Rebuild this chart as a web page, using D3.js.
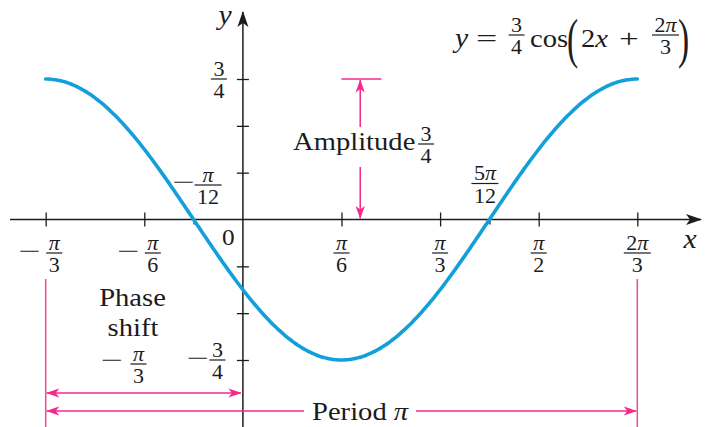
<!DOCTYPE html>
<html><head><meta charset="utf-8">
<script src="https://cdn.jsdelivr.net/npm/d3@7"></script>
<style>
html,body{margin:0;padding:0;background:#fff;}
svg{display:block;}
text{font-family:"Liberation Serif","Times New Roman",serif;fill:#1c1c1c;}
</style></head><body>
<svg id="chart" width="709" height="427"></svg>
<script>
const PI = Math.PI;

// y = A cos(B x + C)
const amplitude = 0.75;
const frequency = 2;
const phaseConst = 2 * PI / 3;

const xDomain = [-PI / 3, 2 * PI / 3];
const yDomain = [-0.75, 0.75];

// tick positions and their fraction labels
const xTickValues = [-PI / 3, -PI / 6, PI / 6, PI / 3, PI / 2, 2 * PI / 3];
const xTickNums = ["π", "π", "π", "π", "π", "2π"];
const xTickDens = ["3", "6", "6", "3", "2", "3"];
const xTickNeg = [true, true, false, false, false, false];
const xZeroTicks = [-PI / 12, 5 * PI / 12];
const yTickValues = [-0.75, -0.5, -0.25, 0.25, 0.5, 0.75];

const periodValue = PI;
const phaseShift = -PI / 3;

const svg = d3.select("#chart");
const x = d3.scaleLinear().domain(xDomain).range([45.7, 637.3]);
const y = d3.scaleLinear().domain(yDomain).range([360, 79]);

const ink = "#1c1c1c";
const pink = "#f5288c";
const blue = "#139fd9";
const WIDE = 1.1;      // horizontal stretch for the text face
const FRAC = 20;       // fraction numeral size

// arrowheads
const defs = svg.append("defs");
defs.append("marker").attr("id", "pinkHead")
  .attr("viewBox", "0 -5 13 10").attr("refX", 12.5).attr("refY", 0)
  .attr("markerWidth", 13).attr("markerHeight", 10)
  .attr("markerUnits", "userSpaceOnUse").attr("orient", "auto-start-reverse")
  .append("path").attr("d", "M0,-4.6 L13,0 L0,4.6 L3.5,0 Z").attr("fill", pink);
defs.append("marker").attr("id", "axisHead")
  .attr("viewBox", "0 -6 16 12").attr("refX", 15).attr("refY", 0)
  .attr("markerWidth", 16).attr("markerHeight", 12)
  .attr("markerUnits", "userSpaceOnUse").attr("orient", "auto")
  .append("path").attr("d", "M0,-5.5 L16,0 L0,5.5 L4,0 Z").attr("fill", ink);

// helper: write a math string, italicising π and variables
function mathText(sel, str) {
  for (const ch of str) {
    const t = sel.append("tspan").text(ch);
    if (ch === "π" || ch === "x" || ch === "y") t.style("font-style", "italic");
  }
  return sel;
}

// stretched text placed at (px, py)
function label(px, py, str, size, anchor = "start", sx = WIDE) {
  const t = svg.append("text").attr("transform", `translate(${px},${py}) scale(${sx},1)`)
    .attr("text-anchor", anchor).style("font-size", size + "px");
  return mathText(t, str);
}

function frac(cx, barY, num, den, size = FRAC) {
  const g = svg.append("g");
  const n = mathText(g.append("text").attr("transform", `translate(${cx},${barY - 3.5}) scale(${WIDE},1)`)
    .attr("text-anchor", "middle").style("font-size", size + "px"), num);
  const d = mathText(g.append("text").attr("transform", `translate(${cx},${barY + size * 0.68 + 5.5}) scale(${WIDE},1)`)
    .attr("text-anchor", "middle").style("font-size", size + "px"), den);
  const w = WIDE * Math.max(n.node().getComputedTextLength(), d.node().getComputedTextLength()) + 5;
  g.append("line").attr("x1", cx - w / 2).attr("x2", cx + w / 2)
    .attr("y1", barY).attr("y2", barY).attr("stroke", ink).attr("stroke-width", 1.2);
  return g;
}

function minus(cx, cy, size = 24) {
  label(cx, cy + size * 0.27, "−", size, "middle", 1.65);
}

// x axis
svg.append("line").attr("x1", 10).attr("x2", 701).attr("y1", y(0)).attr("y2", y(0))
  .attr("stroke", ink).attr("stroke-width", 1.5).attr("marker-end", "url(#axisHead)");
const xAxis = svg.append("g").attr("transform", `translate(0,${y(0)})`)
  .call(d3.axisBottom(x).tickValues(xTickValues).tickSize(7).tickFormat(""));
xAxis.select(".domain").remove();
xAxis.selectAll(".tick line").attr("y1", -7).attr("y2", 7).attr("stroke", ink).attr("stroke-width", 1.3);
const xAxisZ = svg.append("g").attr("transform", `translate(0,${y(0)})`)
  .call(d3.axisBottom(x).tickValues(xZeroTicks).tickSize(5).tickFormat(""));
xAxisZ.select(".domain").remove();
xAxisZ.selectAll(".tick line").attr("y1", -1).attr("y2", 5).attr("stroke", ink).attr("stroke-width", 1.3);

// y axis
svg.append("line").attr("x1", x(0)).attr("x2", x(0)).attr("y1", 427).attr("y2", 12)
  .attr("stroke", ink).attr("stroke-width", 1.5).attr("marker-end", "url(#axisHead)");
const yAxis = svg.append("g").attr("transform", `translate(${x(0)},0)`)
  .call(d3.axisLeft(y).tickValues(yTickValues).tickSize(6).tickFormat(""));
yAxis.select(".domain").remove();
yAxis.selectAll(".tick line").attr("x1", -6).attr("x2", 6).attr("stroke", ink).attr("stroke-width", 1.3);

// x tick labels
xTickValues.forEach((v, i) => {
  const off = xTickNeg[i] ? 8.5 : 0;
  frac(x(v) + off, 253, xTickNums[i], xTickDens[i]);
  if (xTickNeg[i]) minus(x(v) - 16, 253);
});
frac(x(-PI / 12) + 14.5, 185, "π", "12");
minus(x(-PI / 12) - 10, 183.5);
frac(x(5 * PI / 12) - 4.5, 183.5, "5π", "12");

// origin and axis names
label(x(0) - 14.5, 245, "0", 23, "middle");
label(690, 248, "x", 27, "middle");
label(225, 24, "y", 27, "middle");

// y tick labels
frac(x(0) - 24, y(0.75), "3", "4");
frac(x(0) - 25.5, y(-0.75), "3", "4");
minus(x(0) - 45, y(-0.75));

// the cosine curve
const xs = d3.range(0, 241).map(i => xDomain[0] + i * (xDomain[1] - xDomain[0]) / 240);
const line = d3.line().x(d => x(d)).y(d => y(amplitude * Math.cos(frequency * d + phaseConst)))
  .curve(d3.curveBasis);
svg.append("path").datum(xs).attr("d", line).attr("fill", "none")
  .attr("stroke", blue).attr("stroke-width", 3.6).attr("stroke-linecap", "round");

// amplitude marker
const ampX = x(0.623);
svg.append("line").attr("x1", x(PI / 6)).attr("x2", x(PI / 6) + 40)
  .attr("y1", y(amplitude)).attr("y2", y(amplitude)).attr("stroke", pink).attr("stroke-width", 1.5);
svg.append("line").attr("x1", ampX).attr("x2", ampX).attr("y1", 127).attr("y2", y(amplitude) + 1)
  .attr("stroke", pink).attr("stroke-width", 1.5).attr("marker-end", "url(#pinkHead)");
svg.append("line").attr("x1", ampX).attr("x2", ampX).attr("y1", 167).attr("y2", y(0) - 1)
  .attr("stroke", pink).attr("stroke-width", 1.5).attr("marker-end", "url(#pinkHead)");
label(293, 150, "Amplitude", 26);
frac(426, 144, "3", "4");

// phase shift and period markers
[x(xDomain[0]), x(xDomain[1])].forEach(px => {
  svg.append("line").attr("x1", px).attr("x2", px).attr("y1", 279).attr("y2", 427)
    .attr("stroke", pink).attr("stroke-width", 1.5).attr("opacity", 0.85);
});
svg.append("line").attr("x1", x(xDomain[0]) + 1).attr("x2", x(xDomain[0] - phaseShift) - 2)
  .attr("y1", 393).attr("y2", 393).attr("stroke", pink).attr("stroke-width", 1.5)
  .attr("marker-start", "url(#pinkHead)").attr("marker-end", "url(#pinkHead)");
svg.append("line").attr("x1", 304).attr("x2", x(xDomain[0]) + 1)
  .attr("y1", 411).attr("y2", 411).attr("stroke", pink).attr("stroke-width", 1.5)
  .attr("marker-end", "url(#pinkHead)");
svg.append("line").attr("x1", 416).attr("x2", x(xDomain[0] + periodValue) - 1)
  .attr("y1", 411).attr("y2", 411).attr("stroke", pink).attr("stroke-width", 1.5)
  .attr("marker-end", "url(#pinkHead)");
label(312, 420, "Period π", 26);

label(132.5, 306, "Phase", 26, "middle");
label(133, 336, "shift", 26, "middle");
frac(138.5, 364, "π", "3");
minus(112, 362);

// equation
label(455, 47, "y", 27);
label(476, 47, "=", 26, "start", 1.45);
frac(516.5, 35, "3", "4");
label(530, 47, "cos", 26);
label(567, 57, "(", 54, "start", 0.62);
label(581, 47, "2x", 26);
label(619, 47, "+", 26, "start", 1.35);
frac(665.5, 35, "2π", "3");
label(678, 57, ")", 54, "start", 0.62);
</script>
</body></html>
